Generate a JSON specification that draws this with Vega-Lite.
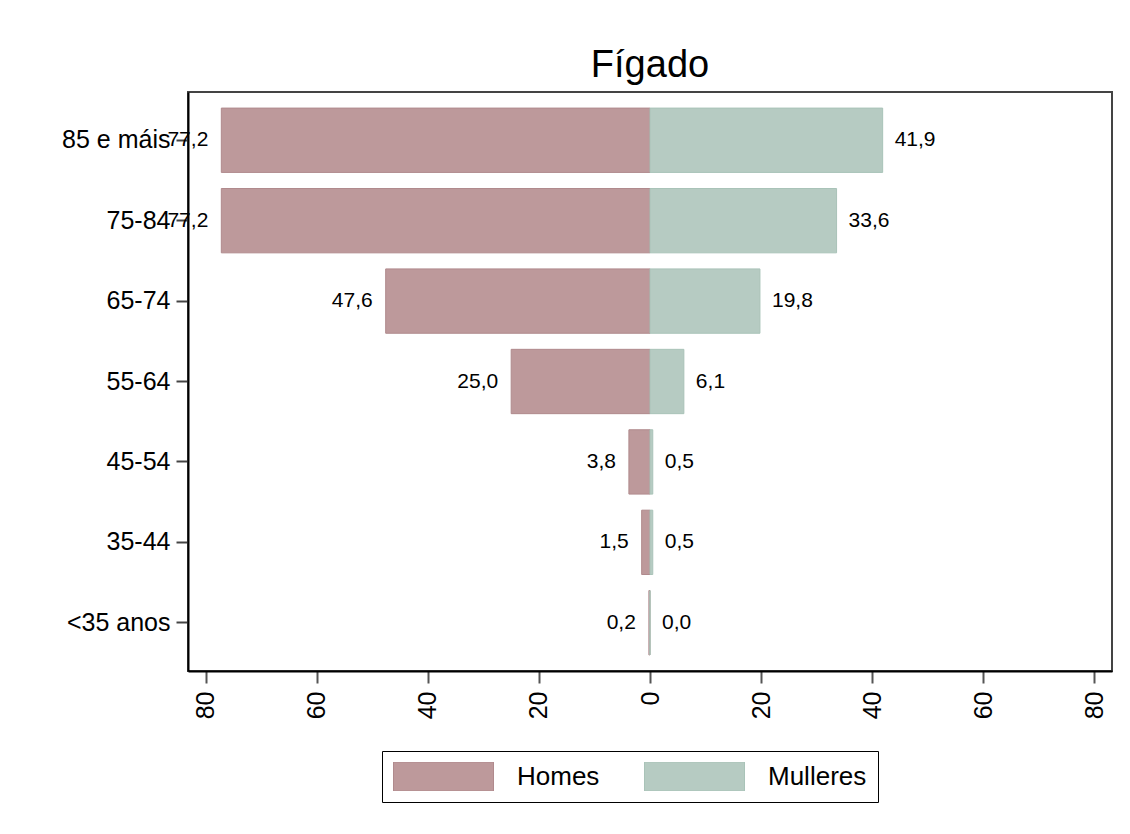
{
  "$schema": "https://vega.github.io/schema/vega-lite/v6.json",
  "width": 924,
  "height": 579,
  "autosize": {"type": "none"},
  "padding": {"left": 188, "top": 92, "right": 18, "bottom": 163},
  "background": "white",
  "title": {"text": "Fígado", "fontSize": 38, "fontWeight": "normal", "color": "#000", "anchor": "middle", "baseline": "alphabetic", "offset": -23},
  "data": {"values": [
    {"grupo": "85 e máis", "sexo": "Homes", "valor": 77.2},
    {"grupo": "85 e máis", "sexo": "Mulleres", "valor": 41.9},
    {"grupo": "75-84", "sexo": "Homes", "valor": 77.2},
    {"grupo": "75-84", "sexo": "Mulleres", "valor": 33.6},
    {"grupo": "65-74", "sexo": "Homes", "valor": 47.6},
    {"grupo": "65-74", "sexo": "Mulleres", "valor": 19.8},
    {"grupo": "55-64", "sexo": "Homes", "valor": 25.0},
    {"grupo": "55-64", "sexo": "Mulleres", "valor": 6.1},
    {"grupo": "45-54", "sexo": "Homes", "valor": 3.8},
    {"grupo": "45-54", "sexo": "Mulleres", "valor": 0.5},
    {"grupo": "35-44", "sexo": "Homes", "valor": 1.5},
    {"grupo": "35-44", "sexo": "Mulleres", "valor": 0.5},
    {"grupo": "<35 anos", "sexo": "Homes", "valor": 0.2},
    {"grupo": "<35 anos", "sexo": "Mulleres", "valor": 0.0}
  ]},
  "transform": [
    {"calculate": "datum.sexo === 'Homes' ? -datum.valor : datum.valor", "as": "x"}
  ],
  "encoding": {
    "y": {
      "field": "grupo",
      "type": "nominal",
      "sort": ["85 e máis", "75-84", "65-74", "55-64", "45-54", "35-44", "<35 anos"],
      "scale": {"paddingInner": 0.2, "paddingOuter": 0.2},
      "axis": {
        "title": null,
        "labelFontSize": 25,
        "labelColor": "#000",
        "labelPadding": 6,
        "tickSize": 12,
        "tickWidth": 2,
        "tickColor": "#444",
        "domainColor": "#000",
        "domainWidth": 2,
        "labelLimit": 300
      }
    }
  },
  "layer": [
    {
      "mark": {"type": "bar", "strokeWidth": 1},
      "encoding": {
        "x": {
          "field": "x",
          "type": "quantitative",
          "scale": {"domain": [-83.2, 83.2], "nice": false, "zero": false},
          "axis": {
            "title": null,
            "values": [-80, -60, -40, -20, 0, 20, 40, 60, 80],
            "labelExpr": "abs(datum.value)",
            "labelAngle": -90,
            "labelFontSize": 25,
            "labelPadding": 8,
            "labelColor": "#000",
            "tickSize": 12,
            "tickWidth": 2,
            "tickColor": "#555",
            "domainColor": "#000",
            "domainWidth": 2,
            "grid": false,
            "labelFlush": false,
            "labelOverlap": false
          }
        },
        "color": {
          "field": "sexo",
          "type": "nominal",
          "scale": {"domain": ["Homes", "Mulleres"], "range": ["#bd999b", "#b6cbc2"]},
          "legend": {
            "orient": "none",
            "legendX": 194,
            "legendY": 659,
            "direction": "horizontal",
            "title": null,
            "symbolType": "M-1,-0.29H1V0.29H-1Z",
            "symbolSize": 10000,
            "clipHeight": 29,
            "labelFontSize": 26,
            "labelColor": "#000",
            "labelOffset": 23,
            "columnPadding": 44,
            "padding": 11,
            "strokeColor": "#000",
            "fillColor": "white",
            "symbolOpacity": 1,
            "symbolStrokeWidth": 1
          }
        },
        "stroke": {
          "field": "sexo",
          "type": "nominal",
          "scale": {"domain": ["Homes", "Mulleres"], "range": ["#b08a8d", "#a9c3b8"]}
        }
      }
    },
    {
      "transform": [{"filter": "datum.sexo === 'Homes'"}],
      "mark": {"type": "text", "align": "right", "baseline": "middle", "dx": -13, "fontSize": 21, "color": "#000"},
      "encoding": {
        "x": {"field": "x", "type": "quantitative"},
        "text": {"field": "valor", "type": "quantitative", "format": ".1f"}
      }
    },
    {
      "transform": [{"filter": "datum.sexo === 'Mulleres'"}],
      "mark": {"type": "text", "align": "left", "baseline": "middle", "dx": 12, "fontSize": 21, "color": "#000"},
      "encoding": {
        "x": {"field": "x", "type": "quantitative"},
        "text": {"field": "valor", "type": "quantitative", "format": ".1f"}
      }
    }
  ],
  "config": {
    "font": "Liberation Sans",
    "view": {"stroke": "#444", "strokeWidth": 2},
    "locale": {"number": {"decimal": ",", "thousands": ".", "grouping": [3], "currency": ["", " €"]}}
  }
}
